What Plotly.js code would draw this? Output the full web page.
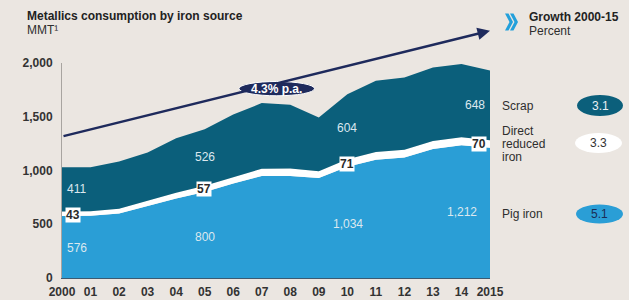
<!DOCTYPE html>
<html>
<head>
<meta charset="utf-8">
<script src="https://cdn.plot.ly/plotly-3.0.1.min.js"></script>
<style>
html,body{margin:0;padding:0;background:#ebe6e1;}
#chart{width:629px;height:300px;}
</style>
</head>
<body>
<div id="chart"></div>
<script>
// ---- data ----
const years = [2000,2001,2002,2003,2004,2005,2006,2007,2008,2009,2010,2011,2012,2013,2014,2015];
const xTickText = ['2000','01','02','03','04','05','06','07','08','09','10','11','12','13','14','2015'];
const pigIron = [576,580,600,670,740,800,880,950,950,930,1034,1100,1120,1200,1235,1212];
const dri     = [43,41,45,49,54,57,60,67,68,64,71,73,73,75,74,70];
const scrap   = [411,410,438,448,507,526,580,610,593,499,604,662,673,684,682,648];
const seriesNames = ['Pig iron','Direct reduced iron','Scrap'];
const growth = {scrap:'3.1', dri:'3.3', pig:'5.1'};
const trendStart = 1316, trendEnd = 2300;
const trendLabel = '4.3% p.a.';
const yTicks = [0,500,1000,1500,2000];

// ---- layout helpers (pixel -> paper) ----
const L = 62, T = 63, W = 428, H = 215;
const px = x => (x - L) / W;
const py = y => (T + H - y) / H;
const FONT = 'Liberation Sans, Arial, sans-serif';
const fmt = v => v.toLocaleString('en-US');

const cScrap = '#0b5f7b', cPig = '#2a9ed6', cNavy = '#1e2a5c', cText = '#2e2e2e';

const traces = [
  {x: years, y: pigIron, name: seriesNames[0], type:'scatter', mode:'lines', stackgroup:'s',
   fillcolor: cPig, line:{width:0, color:cPig}},
  {x: years, y: dri, name: seriesNames[1], type:'scatter', mode:'lines', stackgroup:'s',
   fillcolor: '#ffffff', line:{width:0, color:'#ffffff'}},
  {x: years, y: scrap, name: seriesNames[2], type:'scatter', mode:'lines', stackgroup:'s',
   fillcolor: cScrap, line:{width:0, color:cScrap}}
];

const ann = [];
function t(text, x, y, opts){ ann.push(Object.assign({text, x, y, xref:'paper', yref:'paper', showarrow:false,
  xanchor:'left', yanchor:'middle', font:{family:FONT, size:12, color:cText}}, opts||{})); }

// titles
t('<b>Metallics consumption by iron source</b>', px(25), py(16.5), {font:{family:FONT,size:12,color:'#222'}});
t('MMT¹', px(25), py(30.5));
t('<b>Growth 2000-15</b>', px(527), py(17), {font:{family:FONT,size:12,color:'#222'}});
t('Percent', px(527), py(31));

// legend texts
t('Scrap', px(500), py(105.5));
t('Direct', px(500), py(130.7));
t('reduced', px(500), py(144));
t('iron', px(500), py(157.3));
t('Pig iron', px(500), py(214));
t(growth.scrap, px(600), py(105.5), {xanchor:'center', font:{family:FONT,size:12,color:'#e8f0f4'}});
t(growth.dri, px(598.5), py(143), {xanchor:'center', font:{family:FONT,size:12,color:'#333'}});
t(growth.pig, px(599), py(214), {xanchor:'center', font:{family:FONT,size:12,color:'#1b2d55'}});

// value labels inside areas (data coordinates)
const labIdx = [0,5,10,15];
const labPos = [
  {sx:2000.52, sy:826, dx:2000.37, dy:586, px:2000.52, py:279},
  {sx:2005.01, sy:1124, dx:2004.98, dy:826, px:2005.01, py:381},
  {sx:2009.98, sy:1394, dx:2009.98, dy:1061, px:2010.02, py:502},
  {sx:2014.48, sy:1611, dx:2014.63, dy:1245, px:2014.01, py:611}
];
labIdx.forEach((i,k)=>{
  const p = labPos[k];
  const light = {family:FONT, size:12, color:'#dce8ef'};
  ann.push({x:p.sx, y:p.sy, xref:'x', yref:'y', text:fmt(scrap[i]), showarrow:false, font:light});
  ann.push({x:p.px, y:p.py, xref:'x', yref:'y', text:fmt(pigIron[i]), showarrow:false, font:light});
  ann.push({x:p.dx, y:p.dy, xref:'x', yref:'y', text:'<b>'+fmt(dri[i])+'</b>', showarrow:false,
    bgcolor:'#ffffff', borderpad:0, font:{family:FONT, size:12, color:'#2a2a2a'}});
});

// trend arrow
ann.push({x:2015, y:trendEnd, ax:2000, ay:trendStart, xref:'x', yref:'y', axref:'x', ayref:'y',
  text:'', showarrow:true, arrowhead:2, arrowsize:1, arrowwidth:2.5, arrowcolor:cNavy, standoff:0});
ann.push({x:2007.52, y:1762, xref:'x', yref:'y', text:'<b>'+trendLabel+'</b>', showarrow:false,
  font:{family:FONT, size:12, color:'#ffffff'}});

// shapes
const shapes = [
  {type:'circle', xref:'x', yref:'y', x0:2006.2, x1:2008.85, y0:1695, y1:1828,
   fillcolor:cNavy, line:{color:'#ffffff', width:1}},
  {type:'circle', xref:'paper', yref:'paper', x0:px(577), x1:px(623), y0:py(116), y1:py(95),
   fillcolor:cScrap, line:{width:0}},
  {type:'circle', xref:'paper', yref:'paper', x0:px(575), x1:px(622), y0:py(153), y1:py(133),
   fillcolor:'#ffffff', line:{width:0}},
  {type:'circle', xref:'paper', yref:'paper', x0:px(576), x1:px(623), y0:py(223.5), y1:py(204.5),
   fillcolor:cPig, line:{width:0}}
];
// chevron icon
function chevron(x0){
  const pts = [[x0,13.5],[x0+3.5,13.5],[x0+8,22],[x0+3.5,30.5],[x0,30.5],[x0+4.5,22]];
  return 'M' + pts.map(p=>px(p[0])+','+py(p[1])).join(' L') + ' Z';
}
shapes.push({type:'path', xref:'paper', yref:'paper', path:chevron(505), fillcolor:'#23a0db', line:{width:0}});
shapes.push({type:'path', xref:'paper', yref:'paper', path:chevron(510), fillcolor:'#23a0db', line:{width:0}});

const layout = {
  width:629, height:300,
  margin:{l:L, r:629-L-W, t:T, b:300-T-H, pad:0},
  paper_bgcolor:'#ebe6e1', plot_bgcolor:'#ebe6e1',
  showlegend:false,
  font:{family:FONT, size:12, color:cText},
  xaxis:{range:[2000,2015], tickvals:years, ticktext:xTickText, showgrid:false, zeroline:false,
    showline:true, linecolor:'#3c5a70', linewidth:1, ticks:'', ticklabelstandoff:3,
    tickfont:{family:FONT, size:12, color:'#333', weight:700}, fixedrange:true},
  yaxis:{range:[0,2000], tickvals:yTicks, tickformat:',d', showgrid:false, zeroline:false,
    showline:true, linecolor:'#a8a4a0', linewidth:1, ticks:'', ticklabelstandoff:6,
    tickfont:{family:FONT, size:12, color:'#333', weight:700}, fixedrange:true},
  annotations: ann,
  shapes: shapes
};

Plotly.newPlot('chart', traces, layout, {staticPlot:true, displayModeBar:false});
</script>
</body>
</html>
